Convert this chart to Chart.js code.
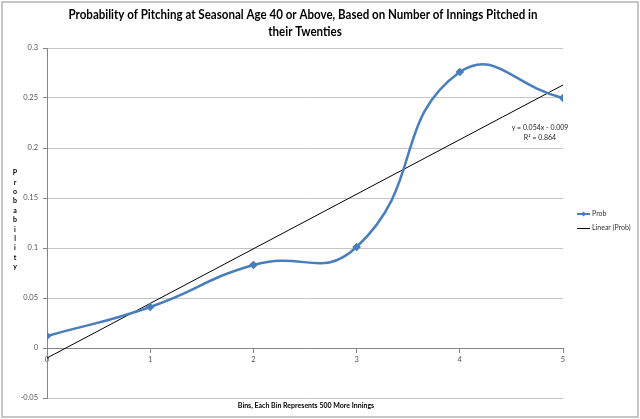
<!DOCTYPE html>
<html>
<head>
<meta charset="utf-8">
<script src="https://cdn.jsdelivr.net/npm/chart.js@4/dist/chart.umd.min.js"></script>
<style>
  html, body { margin: 0; padding: 0; background: #ffffff; }
  #wrap { position: relative; width: 640px; height: 419px; }
</style>
</head>
<body>
<div id="wrap"><canvas id="c" width="640" height="419"></canvas></div>
<script>
// ---- data ----
const bins = [0, 1, 2, 3, 4, 5];
const prob = [0.012, 0.041, 0.083, 0.101, 0.276, 0.250];
const trendX = [0, 5];
const trendY = [-0.010, 0.263];
const titleLines = ["Probability of Pitching at Seasonal Age 40 or Above, Based on Number of Innings Pitched in", "their Twenties"];
const xTitle = "Bins, Each Bin Represents 500 More Innings";
const yTitle = "Probability";
const seriesNames = ["Prob", "Linear (Prob)"];
const equation = ["y = 0.054x - 0.009", "R\u00B2 = 0.864"];

const BLUE = '#4a7ebb';
const FONT = 'Lato, "Open Sans", "Liberation Sans", sans-serif';

const decor = {
  id: 'decor',
  afterDraw(chart) {
    const ctx = chart.ctx;
    ctx.save();
    // outer frame
    ctx.strokeStyle = '#c6c6c6';
    ctx.lineWidth = 2;
    ctx.strokeRect(2, 2, 636, 415);
    // title (condensed horizontally to match the narrow original face)
    ctx.fillStyle = '#000';
    ctx.textAlign = 'center';
    ctx.textBaseline = 'middle';
    ctx.font = 'bold 13.5px ' + FONT;
    const w0 = ctx.measureText(titleLines[0]).width;
    const sx = 469 / w0;
    ctx.save();
    ctx.translate(303, 0);
    ctx.scale(sx, 1);
    ctx.fillText(titleLines[0], 0, 15);
    ctx.fillText(titleLines[1], 2 / sx, 32);
    ctx.restore();
    // x axis title
    ctx.font = 'bold 7px ' + FONT;
    ctx.fillText(xTitle, 306, 406);
    // y axis title stacked
    for (let i = 0; i < yTitle.length; i++) {
      ctx.fillText(yTitle[i], 15, 173 + i * 9.4);
    }
    // equation
    ctx.fillStyle = '#222';
    ctx.font = '7px ' + FONT;
    ctx.fillText(equation[0], 540, 128);
    ctx.fillText(equation[1], 540, 138);
    // legend
    ctx.textAlign = 'left';
    ctx.strokeStyle = BLUE;
    ctx.lineWidth = 2;
    ctx.beginPath(); ctx.moveTo(577, 214); ctx.lineTo(590, 214); ctx.stroke();
    ctx.fillStyle = BLUE;
    ctx.beginPath();
    ctx.moveTo(583.5, 211.5); ctx.lineTo(586, 214); ctx.lineTo(583.5, 216.5); ctx.lineTo(581, 214);
    ctx.closePath(); ctx.fill();
    ctx.strokeStyle = '#000';
    ctx.lineWidth = 1;
    ctx.beginPath(); ctx.moveTo(577, 228.5); ctx.lineTo(590, 228.5); ctx.stroke();
    ctx.fillStyle = '#333';
    ctx.font = '7px ' + FONT;
    ctx.fillText(seriesNames[0], 592, 214);
    ctx.fillText(seriesNames[1], 592, 228);
    ctx.restore();
  }
};

new Chart(document.getElementById('c'), {
  type: 'line',
  data: {
    datasets: [
      {
        label: seriesNames[1],
        data: trendX.map((x, i) => ({ x: x, y: trendY[i] })),
        borderColor: '#000000',
        borderWidth: 1,
        pointRadius: 0,
        tension: 0,
        order: 1
      },
      {
        label: seriesNames[0],
        data: bins.map((x, i) => ({ x: x, y: prob[i] })),
        borderColor: BLUE,
        backgroundColor: BLUE,
        borderWidth: 2.5,
        pointStyle: 'rectRot',
        pointRadius: 2.6,
        pointBackgroundColor: BLUE,
        pointBorderColor: BLUE,
        tension: 0.5,
        order: 0
      }
    ]
  },
  options: {
    responsive: false,
    animation: false,
    events: [],
    layout: { padding: { left: 0, top: 48, right: 77, bottom: 21 } },
    plugins: { legend: { display: false }, title: { display: false }, tooltip: { enabled: false } },
    scales: {
      x: {
        type: 'linear',
        position: { y: 0 },
        min: 0, max: 5,
        ticks: { stepSize: 1, color: '#555', font: { size: 7.5, family: FONT }, padding: 3, maxRotation: 0 },
        grid: { drawOnChartArea: false, drawTicks: true, tickLength: 4, tickColor: '#868686' },
        border: { color: '#868686', width: 1 }
      },
      y: {
        type: 'linear',
        position: 'left',
        min: -0.05, max: 0.3,
        afterFit(scale) { scale.width = 47; },
        ticks: {
          stepSize: 0.05, color: '#555', font: { size: 7.5, family: FONT }, padding: 5,
          callback: v => String(parseFloat(v.toFixed(2)))
        },
        grid: { color: '#c4c4c4', lineWidth: 1, tickLength: 4, tickColor: '#868686' },
        border: { color: '#868686', width: 1 }
      }
    }
  },
  plugins: [decor]
});
</script>
</body>
</html>
